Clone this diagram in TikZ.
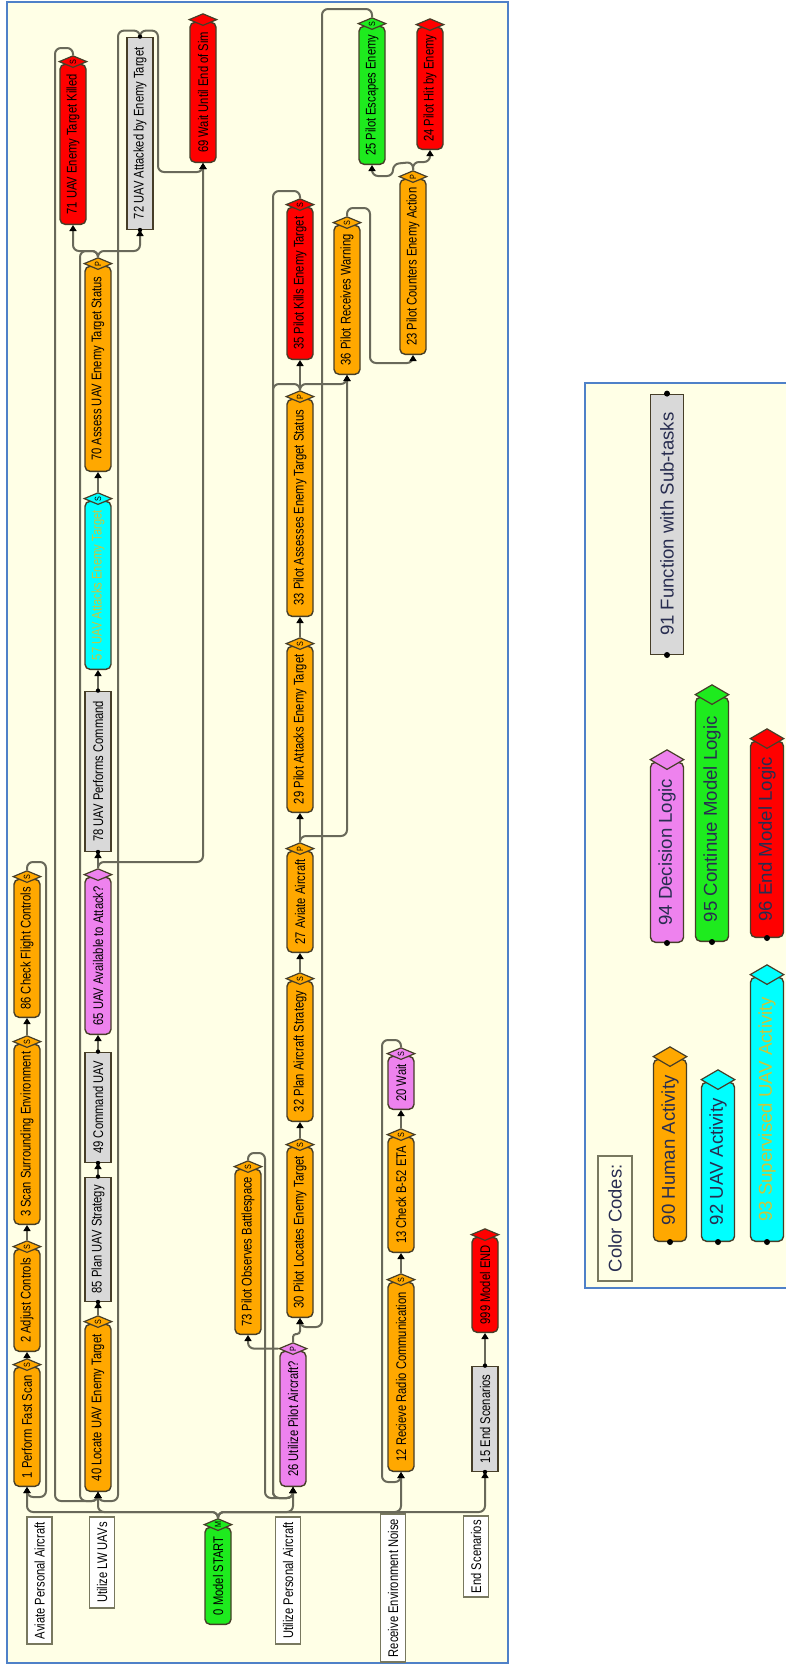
\documentclass[tikz,border=0pt]{standalone}
\usepackage{fontspec}
\setmainfont{Liberation Sans}
\newfontfamily\diafont{Liberation Sans}[FakeStretch=0.8]
\usetikzlibrary{shapes.geometric,arrows.meta}

\definecolor{framefill}{RGB}{255,255,230}
\definecolor{framedraw}{RGB}{79,129,200}
\definecolor{orangec}{RGB}{255,168,0}
\definecolor{redc}{RGB}{255,0,0}
\definecolor{greenc}{RGB}{30,235,30}
\definecolor{cyanc}{RGB}{0,255,255}
\definecolor{pinkc}{RGB}{238,130,238}
\definecolor{greyc}{RGB}{217,217,217}
\definecolor{edgec}{RGB}{70,62,40}
\definecolor{linec}{RGB}{105,105,90}
\definecolor{hdrdraw}{RGB}{120,120,95}
\definecolor{yellowtxt}{RGB}{200,200,60}
\definecolor{legtext}{RGB}{40,45,80}

\tikzset{
  task/.style={rotate=90, anchor=west, draw=edgec, line width=0.7pt, rounded corners=2.5pt,
    fill=#1, minimum height=13pt, inner sep=1pt, font=\diafont\fontsize{7}{8}\selectfont},
  func/.style={task=greyc, sharp corners},
  gate/.style={diamond, rotate=90, draw=edgec, line width=0.6pt, fill=#1, minimum width=6pt,
    minimum height=14pt, inner sep=0pt, font=\diafont\fontsize{4.5}{5}\selectfont},
  lane/.style={rotate=90, anchor=west, draw=hdrdraw, line width=0.9pt, fill=white,
    minimum height=12.5pt, inner sep=1pt, font=\diafont\fontsize{7}{8}\selectfont},
  flow/.style={draw=linec, line width=1pt, rounded corners=3pt,
    -{Triangle[length=3pt,width=3.5pt,color=black]}},
  legitem/.style={task=#1, minimum height=16.5pt, font=\fontsize{9.3}{11}\selectfont, text=legtext},
  biggate/.style={gate=#1, minimum width=10pt, minimum height=17pt},
}

\begin{document}
\begin{tikzpicture}[x=0.5pt,y=-0.5pt]
  \useasboundingbox (0,0) rectangle (786,1665);

  % frames
  \draw[framedraw, fill=framefill, line width=1pt] (7,2) rectangle (508,1663);
  \fill[framefill] (585,383) rectangle (786,1288);
  \draw[framedraw, line width=1pt] (786,383) -- (585,383) -- (585,1288) -- (786,1288);

  % lane headers
  \node[lane, minimum width=63.5pt] (hAviate) at (39.5,1645) {Aviate Personal Aircraft};
  \node[lane, minimum width=45.5pt] (hUAV) at (102,1609) {Utilize LW UAVs};
  \node[lane, minimum width=63.5pt] (hPilot) at (288,1645) {Utilize Personal Aircraft};
  \node[lane, minimum width=74pt] (hNoise) at (393,1663) {Receive Environment Noise};
  \node[lane, minimum width=40.5pt] (hEnd) at (476,1598) {End Scenarios};

  % start
  \node[task=greenc, minimum width=48.5pt] (n0) at (218,1625) {0 Model START};

  % aviate personal aircraft
  \node[task=orangec, minimum width=59.5pt] (n1) at (27,1487) {1 Perform Fast Scan};
  \node[task=orangec, minimum width=51pt] (n2) at (27,1352) {2 Adjust Controls};
  \node[task=orangec, minimum width=90pt] (n3) at (27,1225) {3 Scan Surrounding Environment};
  \node[task=orangec, minimum width=69pt] (n86) at (27,1018) {86 Check Flight Controls};

  % utilize LW UAVs
  \node[task=orangec, minimum width=83.5pt] (n40) at (98,1492) {40 Locate UAV Enemy Target};
  \node[func, minimum width=62pt] (n85) at (98,1302) {85 Plan UAV Strategy};
  \node[func, minimum width=55pt] (n49) at (98,1163) {49 Command UAV};
  \node[task=pinkc, minimum width=78.5pt] (n65) at (98,1035) {65 UAV Available to Attack?};
  \node[func, minimum width=80pt] (n78) at (98,852) {78 UAV Performs Command};
  \node[task=cyanc, text=yellowtxt, minimum width=84pt] (n57) at (98,670) {57 UAV Attacks Enemy Target};
  \node[task=orangec, minimum width=102.5pt] (n70) at (98,472) {70 Assess UAV Enemy Target Status};
  \node[task=redc, minimum width=80pt] (n71) at (73,225) {71 UAV Enemy Target Killed};
  \node[func, minimum width=96pt] (n72) at (140,230) {72 UAV Attacked by Enemy Target};
  \node[task=redc, minimum width=70pt] (n69) at (203,163) {69 Wait Until End of Sim};

  % utilize personal aircraft
  \node[task=pinkc, minimum width=67.5pt] (n26) at (293,1487) {26 Utilize Pilot Aircraft?};
  \node[task=orangec, minimum width=82.5pt] (n73) at (248,1335) {73 Pilot Observes Battlespace};
  \node[task=orangec, minimum width=85pt] (n30) at (300,1318) {30 Pilot Locates Enemy Target};
  \node[task=orangec, minimum width=70pt] (n32) at (300,1122) {32 Plan Aircraft Strategy};
  \node[task=orangec, minimum width=50.5pt] (n27) at (300,953) {27 Aviate Aircraft};
  \node[task=orangec, minimum width=83pt] (n29) at (300,813) {29 Pilot Attacks Enemy Target};
  \node[task=orangec, minimum width=108.5pt] (n33) at (300,617) {33 Pilot Assesses Enemy Target Status};
  \node[task=redc, minimum width=76pt] (n35) at (300,360) {35 Pilot Kills Enemy Target};
  \node[task=orangec, minimum width=74.5pt] (n36) at (347,375) {36 Pilot Receives Warning};
  \node[task=orangec, minimum width=87.5pt] (n23) at (413,355) {23 Pilot Counters Enemy Action};
  \node[task=greenc, minimum width=69pt] (n25) at (372,165) {25 Pilot Escapes Enemy};
  \node[task=redc, minimum width=61pt] (n24) at (430,150) {24 Pilot Hit by Enemy};

  % receive environment noise
  \node[task=orangec, minimum width=94.5pt] (n12) at (401,1472) {12 Recieve Radio Communication};
  \node[task=orangec, minimum width=57.5pt] (n13) at (401,1253) {13 Check B-52 ETA};
  \node[task=pinkc, minimum width=26.5pt] (n20) at (401,1110) {20 Wait};

  % end scenarios
  \node[func, minimum width=52.5pt] (n15) at (485,1472) {15 End Scenarios};
  \node[task=redc, minimum width=47.5pt] (n999) at (485,1333) {999 Model END};

  % gates on top of the tasks
  \foreach \id/\col/\lab in {0/greenc/M, 1/orangec/S, 2/orangec/S, 3/orangec/S, 86/orangec/S,
      40/orangec/S, 65/pinkc/{}, 57/cyanc/S, 70/orangec/P, 71/redc/S, 69/redc/{},
      26/pinkc/P, 73/orangec/S, 30/orangec/S, 32/orangec/S, 27/orangec/P, 29/orangec/S,
      33/orangec/P, 35/redc/S, 36/orangec/S, 23/orangec/P, 25/greenc/S, 24/redc/{},
      12/orangec/S, 13/orangec/S, 20/pinkc/S, 999/redc/{}}
    \node[gate=\col] (g\id) at ([yshift=1pt]n\id.east) {\lab};

  % start bus
  \coordinate (bus) at (218,1512);
  \foreach \id in {1,40,26,12,15}
    \draw[flow] (g0.east) -- (bus) -| (n\id.west);

  % aviate lane
  \draw[flow] (g1.east) -- (n2.west);
  \draw[flow] (g2.east) -- (n3.west);
  \draw[flow] (g3.east) -- (n86.west);
  \draw[flow] (g86.east) -- ++(0,-8) -| (46,1497) -| (n1.west);

  % UAV lane
  \draw[flow] (g40.east) -- (n85.west);
  \draw[flow] (n85.east) -- (n49.west);
  \draw[flow] (n49.east) -- (n65.west);
  \draw[flow] (g65.east) -- (n78.west);
  \draw[flow] (g65.east) -- ++(0,-6) -| (n69.west);
  \draw[flow] (n78.east) -- (n57.west);
  \draw[flow] (g57.east) -- (n70.west);
  \draw[flow] (g70.east) -- ++(0,-6) -| (n71.west);
  \draw[flow] (g70.east) -- ++(0,-6) -| (n72.west);
  \draw[flow] (g70.east) -- ++(0,-6) -| (80,1501) -| (n40.west);
  \draw[flow] (g71.east) -- ++(0,-7) -| (55,1501) -| (n40.west);
  \draw[flow] (n72.east) -- ++(0,-6) -| (118,1501) -| (n40.west);
  \draw[flow] (n72.east) -- ++(0,-6) -| (158,172) -| (n69.west);

  % pilot lane
  \draw[flow, rounded corners=1.5pt] (g26.east) -- ++(0,-8) -| (n30.west);
  \draw[flow] (g26.north) -| (n73.west);
  \draw[flow] (g73.east) -- ++(0,-7) -| (265,1498) -| (n26.west);
  \draw[flow] (g30.east) -- (n32.west);
  \draw[flow] (g32.east) -- (n27.west);
  \draw[flow] (g27.east) -- (n29.west);
  \draw[flow] (g27.east) -- ++(0,-6) -| (n36.west);
  \draw[flow] (g29.east) -- (n33.west);
  \draw[flow] (g33.east) -- (n35.west);
  \draw[flow] (g33.east) -- ++(0,-6) -| (n36.west);
  \draw[flow] (g33.east) -- ++(0,-6) -| (273,1498) -| (n26.west);
  \draw[flow] (g35.east) -- ++(0,-7) -| (273,1498) -| (n26.west);
  \draw[flow] (g36.east) -- ++(0,-8) -| (370,363) -| (n23.west);
  \draw[flow] (g23.east) -- ++(0,-8) -| (n24.west);
  \draw[flow] (g23.east) -- ++(0,-8) -- (393,164) -- (393,176) -| (n25.west);
  \draw[flow] (g25.east) -- ++(0,-8) -| (322,1327) -| (n30.west);

  % noise lane
  \draw[flow] (g12.east) -- (n13.west);
  \draw[flow] (g13.east) -- (n20.west);
  \draw[flow] (g20.east) -- ++(0,-7) -| (382,1482) -| (n12.west);

  % end lane
  \draw[flow] (n15.east) -- (n999.west);

  % sub-task dots
  \foreach \id in {85,49,78,72,15}
    \fill (n\id.west) circle (1.1pt) (n\id.east) circle (1.1pt);

  % legend
  \node[legitem=greyc, sharp corners, minimum width=130pt] (L91) at (667,655) {91 Function with Sub-tasks};
  \node[legitem=pinkc, minimum width=90pt] (L94) at (667,943) {94 Decision Logic};
  \node[legitem=greenc, minimum width=122pt] (L95) at (712,942) {95 Continue Model Logic};
  \node[legitem=redc, minimum width=98pt] (L96) at (767,938) {96 End Model Logic};
  \node[legitem=orangec, minimum width=91pt] (L90) at (670,1242) {90 Human Activity};
  \node[legitem=cyanc, minimum width=79.5pt] (L92) at (718,1242) {92 UAV Activity};
  \node[legitem=cyanc, text=yellowtxt, minimum width=132pt] (L93) at (767,1242) {93 Supervised UAV Activity};
  \node[lane, fill=framefill, line width=1.2pt, minimum height=17pt, minimum width=62.5pt,
    font=\fontsize{9.2}{11}\selectfont, text=legtext] (LCodes) at (615,1282) {Color Codes:};
  \foreach \id/\col in {94/pinkc, 95/greenc, 96/redc, 90/orangec, 92/cyanc, 93/cyanc}
    \node[biggate=\col] (gL\id) at ([yshift=1pt]L\id.east) {};
  \foreach \id in {91,94,95,96,90,92,93}
    \fill (L\id.west) circle (1.5pt);
  \fill (L91.east) circle (1.5pt);
\end{tikzpicture}
\end{document}
